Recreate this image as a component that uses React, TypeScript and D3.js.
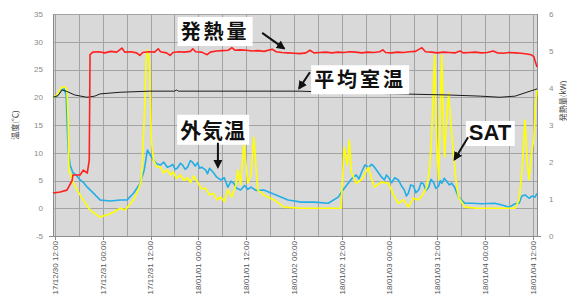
import { useEffect, useRef } from "react";
import * as d3 from "d3";

const W = 567;
const H = 307;

// x values are hours after 17/12/30 12:00
const TICK_LABELS = [
  "17/12/30 12:00",
  "17/12/31 00:00",
  "17/12/31 12:00",
  "18/01/01 00:00",
  "18/01/01 12:00",
  "18/01/02 00:00",
  "18/01/02 12:00",
  "18/01/03 00:00",
  "18/01/03 12:00",
  "18/01/04 00:00",
  "18/01/04 12:00",
];
const LEFT_TICKS = [-5, 0, 5, 10, 15, 20, 25, 30, 35];
const RIGHT_TICKS = [0, 1, 2, 3, 4, 5, 6];

// 発熱量 (kW, right axis)
const HEAT: [number, number][] = [
  [-0.5, 1.16], [1.3, 1.19], [3, 1.24], [4.3, 1.5], [4.5, 1.65], [6.3, 1.65], [7.1, 1.78],
  [8.1, 1.7], [8.6, 2.05], [8.8, 4.9], [9.5, 4.97], [11, 4.98], [12.5, 4.95], [14, 4.99],
  [15.5, 4.97], [16.8, 5.08], [17.5, 4.97], [19, 4.98], [20.5, 4.95], [21.3, 4.88], [22, 4.96],
  [23.5, 4.98], [25, 4.97], [25.9, 5.06], [26.5, 4.98], [28, 4.95], [28.9, 4.88], [29.6, 4.96],
  [31, 4.98], [32.5, 4.97], [34, 4.99], [34.6, 5.06], [35.3, 4.98], [36.8, 4.97], [38.2, 4.9],
  [39, 4.97], [40.5, 5.0], [42, 5.01], [43.5, 5.02], [44.4, 5.09], [45.2, 5.02], [46.5, 5.03],
  [48, 5.02], [49.5, 5.0], [51, 5.01], [52.5, 4.99], [54.5, 5.05], [55.5, 4.98], [57, 4.96],
  [58.5, 4.95], [60, 4.94], [61.5, 4.93], [63, 4.95], [64, 5.02], [65, 4.95], [66.5, 4.96],
  [68, 4.97], [69.5, 4.95], [71, 4.97], [72.5, 4.96], [74, 4.98], [75.5, 4.97], [77, 4.95],
  [78.5, 4.97], [80, 4.96], [81.5, 4.98], [82.3, 5.03], [83, 4.96], [84.5, 4.95], [86, 4.97],
  [87.5, 4.96], [89, 4.98], [90.5, 4.99], [92.1, 5.09], [93, 4.98], [94.5, 4.97], [96, 4.95],
  [97.5, 4.97], [99, 4.96], [100.5, 4.95], [101.7, 5.0], [102.5, 4.95], [104, 4.96],
  [105.5, 4.97], [107, 4.95], [108.5, 4.96], [110, 5.0], [111, 4.95], [112.5, 4.94],
  [114, 4.96], [115.5, 4.95], [117, 4.94], [118.5, 4.92], [119.5, 4.9], [120.2, 4.85],
  [120.6, 4.7], [121, 4.57],
];

// 平均室温 (°C)
const ROOM: [number, number][] = [
  [-0.5, 20.0], [0.75, 20.3], [1.8, 21.3], [2.8, 21.1], [5, 20.4], [8, 20.0], [10, 20.2],
  [11.3, 20.6], [16.3, 20.9], [23.8, 21.1], [30, 21.1], [30.5, 21.3], [31, 21.1], [49, 21.1],
  [61.5, 21.1], [69, 20.9], [74, 20.8], [86.6, 20.6], [99.1, 20.4], [106.7, 20.2],
  [111.7, 20.0], [115.5, 20.2], [118, 20.8], [121, 21.5],
];

// 外気温 (°C)
const OUTDOOR: [number, number][] = [
  [-0.5, 19.9], [0.5, 20.2], [1.5, 21.3], [2.3, 21.5], [2.8, 20.4], [3.3, 10.5], [3.8, 7.8],
  [4.5, 6.4], [5.3, 6.0], [6.3, 5.1], [7.2, 4.6], [8.1, 3.8], [10.1, 2.4], [11.3, 1.5],
  [13.9, 1.3], [16.4, 1.5], [18.1, 1.5], [19.7, 2.7], [21.4, 4.5], [22.4, 6.9], [23.2, 10.5],
  [23.9, 9.6], [24.7, 8.7], [25.5, 8.0], [26.5, 7.8], [27.3, 8.3], [28.2, 7.4], [29, 7.6],
  [29.5, 7.9], [30.2, 7.0], [30.8, 7.3], [31.5, 8.1], [32, 7.8], [32.7, 7.0], [33.3, 7.4],
  [34, 8.6], [34.5, 8.3], [35.2, 7.6], [35.8, 8.2], [36.3, 7.2], [36.8, 7.4], [37.8, 6.9],
  [38.3, 6.2], [38.8, 7.2], [39.8, 6.4], [40.6, 5.6], [41.6, 5.1], [42.5, 5.5], [43.4, 3.8],
  [44.2, 4.9], [44.9, 4.5], [45.6, 3.6], [46.6, 3.3], [47.6, 4.1], [48.4, 3.4], [49.2, 3.8],
  [50.5, 3.2], [52.4, 3.3], [55.5, 2.4], [58.5, 1.5], [61.8, 1.1], [65, 1.1], [68.6, 0.9],
  [71.1, 2.0], [72.3, 3.3], [73.6, 4.5], [74.6, 5.4], [75.6, 6.0], [76.3, 5.3], [76.9, 6.4],
  [77.8, 7.8], [78.7, 7.4], [79.5, 7.9], [80.2, 7.4], [81.2, 6.4], [82, 5.6], [82.7, 5.1],
  [83.2, 6.0], [83.7, 5.6], [84.5, 4.6], [85.3, 5.5], [86.2, 5.1], [87, 4.0], [87.7, 3.3],
  [88.2, 2.2], [88.7, 2.7], [89.3, 4.2], [90, 4.0], [90.6, 2.8], [91.3, 3.3], [91.9, 4.6],
  [92.5, 4.4], [93.1, 3.2], [93.8, 3.8], [94.4, 5.2], [95, 4.7], [95.6, 3.6], [96.3, 4.0],
  [96.7, 5.0], [97.1, 4.5], [97.7, 5.4], [98.3, 4.9], [99, 4.2], [99.6, 4.5], [100.3, 3.8],
  [101.3, 2.0], [102.9, 0.9], [104.6, 0.9], [107.1, 0.8], [110.4, 0.9], [112.2, 0.6],
  [114, 0.2], [115.5, 0.8], [116.5, 0.9], [117.2, 2.2], [118, 2.4], [119, 1.8], [119.7, 2.2],
  [120.5, 2.0], [121, 2.7],
];

// SAT (°C)
const SAT: [number, number][] = [
  [-0.5, 19.9], [0.5, 20.4], [1.5, 21.7], [2.5, 21.9], [3, 21.3], [3.3, 15.9], [3.5, 6.9],
  [4.3, 5.1], [5.5, 3.3], [7.1, 1.5], [8.8, -0.3], [11.3, -1.6], [13.9, -1.0], [16.4, 0.0],
  [17.6, -0.3], [19.7, 1.5], [20.9, 3.3], [21.7, 5.1], [22.4, 15.9], [22.9, 26.7], [23.2, 28.5],
  [23.7, 26.7], [24.2, 12.3], [24.7, 8.7], [25.5, 7.5], [26.5, 7.4], [27.3, 6.4], [28.2, 6.9],
  [29, 6.0], [29.7, 6.5], [30.5, 5.4], [31.5, 6.0], [32.4, 5.0], [33.3, 5.5], [34, 4.6],
  [34.8, 5.8], [35.8, 4.7], [36.8, 3.5], [37.8, 3.6], [38.8, 2.4], [39.8, 2.7], [40.7, 1.5],
  [41.6, 2.0], [42.5, 1.2], [43.4, 3.3], [44.4, 2.0], [45.4, 4.2], [45.9, 6.9], [46.6, 4.2],
  [47.4, 11.8], [48.4, 4.5], [49.2, 6.0], [49.9, 12.8], [50.9, 3.3], [52.4, 2.4], [55, 1.5],
  [57.5, 0.2], [61.8, 0.0], [66.8, 0.0], [71.8, 0.0], [72.6, 11.0], [73.4, 7.8], [73.9, 12.3],
  [74.4, 6.5], [75.6, 4.5], [76.9, 5.1], [78.7, 7.4], [79.4, 5.5], [80.2, 3.8], [81.9, 4.7],
  [83.7, 4.5], [85, 2.4], [86.2, 0.9], [87.5, 1.5], [88.7, 0.2], [90, 1.8], [91.3, 1.5],
  [92.5, 2.6], [93.3, 3.8], [94, 6.9], [94.5, 12.3], [95, 21.3], [95.3, 27.6], [95.8, 12.3],
  [96.3, 5.1], [96.8, 19.5], [97.1, 27.6], [97.5, 15.9], [97.8, 9.2], [98.3, 15.9],
  [98.8, 20.8], [99.3, 15.9], [100.1, 9.2], [100.8, 4.2], [101.3, 2.0], [102.9, 0.2],
  [105.9, 0.0], [110.4, 0.0], [115.5, 0.0], [116.5, 1.5], [117.2, 6.4], [118, 15.9],
  [118.5, 8.7], [119, 5.1], [119.7, 10.5], [120.2, 12.3], [120.6, 18.2], [121, 21.3],
];

// callouts, positioned in data units (hours, °C)
const NOTES = [
  { text: "発熱量", h: 40.2, t: 30.5, size: 20, ls: 3, from: [52, 31.6], to: [57.5, 28.8] },
  { text: "平均室温", h: 76.6, t: 21.8, size: 20, ls: 3, from: [64, 24.5], to: [61.3, 21.6] },
  { text: "外気温", h: 39.7, t: 12.7, size: 21, ls: 1, from: [40.9, 11.8], to: [40.9, 7.4] },
  { text: "SAT", h: 109.2, t: 12.3, size: 22, ls: 0, from: [103.7, 12.8], to: [100.3, 8.8] },
];

export default function App() {
  const ref = useRef<SVGSVGElement | null>(null);

  useEffect(() => {
    const left = 53, right = 537, top = 14, bottom = 236;
    const svg = d3.select(ref.current);
    svg.selectAll("*").remove();

    const x = d3.scaleLinear().domain([-0.5, 121]).range([left, right]);
    const yL = d3.scaleLinear().domain([-5, 35]).range([bottom, top]);
    const yR = d3.scaleLinear().domain([0, 6]).range([bottom, top]);

    svg.append("rect").attr("width", W).attr("height", H).attr("fill", "#fff");
    svg.append("rect")
      .attr("x", left).attr("y", top)
      .attr("width", right - left).attr("height", bottom - top)
      .attr("fill", "#d9d9d9");

    // grid
    const grid = svg.append("g").attr("stroke", "#a3a3a3").attr("stroke-width", 1);
    grid.selectAll("line.h")
      .data(LEFT_TICKS)
      .join("line")
      .attr("x1", left).attr("x2", right)
      .attr("y1", (d) => Math.round(yL(d)) + 0.5).attr("y2", (d) => Math.round(yL(d)) + 0.5);
    grid.selectAll("line.v")
      .data(d3.range(0, 121, 6))
      .join("line")
      .attr("x1", (d) => Math.round(x(d)) + 0.5).attr("x2", (d) => Math.round(x(d)) + 0.5)
      .attr("y1", top).attr("y2", bottom);
    svg.append("line")
      .attr("x1", left + 0.5).attr("x2", left + 0.5).attr("y1", top).attr("y2", bottom)
      .attr("stroke", "#8c8c8c");
    svg.append("line")
      .attr("x1", right + 0.5).attr("x2", right + 0.5).attr("y1", top).attr("y2", bottom)
      .attr("stroke", "#8c8c8c");
    svg.append("line")
      .attr("x1", left - 4).attr("x2", right + 4).attr("y1", bottom + 0.5).attr("y2", bottom + 0.5)
      .attr("stroke", "#8c8c8c");

    const tickFont = "'Liberation Sans', Arial, sans-serif";

    // left axis
    svg.append("g")
      .selectAll("text")
      .data(LEFT_TICKS)
      .join("text")
      .attr("x", 43).attr("y", (d) => yL(d)).attr("dy", "0.35em")
      .attr("text-anchor", "end")
      .attr("font-family", tickFont).attr("font-size", 8).attr("fill", "#8a8a8a")
      .text((d) => String(d));
    svg.append("text")
      .attr("transform", `translate(18,${(yL(13) + yL(17)) / 2}) rotate(-90)`)
      .attr("text-anchor", "middle")
      .attr("font-family", "'Noto Sans CJK JP', sans-serif").attr("font-size", 8).attr("fill", "#444")
      .text("温度(℃)");

    // right axis
    svg.append("g")
      .selectAll("text")
      .data(RIGHT_TICKS)
      .join("text")
      .attr("x", 549).attr("y", (d) => yR(d)).attr("dy", "0.35em")
      .attr("font-family", tickFont).attr("font-size", 8).attr("fill", "#8a8a8a")
      .text((d) => String(d));
    svg.append("text")
      .attr("transform", `translate(563,${yR(3.65)}) rotate(-90)`)
      .attr("text-anchor", "middle").attr("dy", "0.35em")
      .attr("font-family", "'Noto Sans CJK JP', sans-serif").attr("font-size", 8).attr("fill", "#444")
      .text("発熱量(kW)");

    // bottom axis
    const ticks = TICK_LABELS.map((label, i) => ({ label, h: i * 12 }));
    svg.append("g")
      .selectAll("line")
      .data(ticks)
      .join("line")
      .attr("x1", (d) => Math.round(x(d.h)) + 0.5).attr("x2", (d) => Math.round(x(d.h)) + 0.5)
      .attr("y1", bottom).attr("y2", bottom + 4)
      .attr("stroke", "#8c8c8c");
    svg.append("g")
      .selectAll("text")
      .data(ticks)
      .join("text")
      .attr("transform", (d) => `translate(${x(d.h)},${bottom + 5}) rotate(-90)`)
      .attr("text-anchor", "end").attr("dy", "0.35em")
      .attr("font-family", tickFont).attr("font-size", 8).attr("fill", "#555")
      .text((d) => d.label);

    // series
    const lineL = d3.line<[number, number]>().x((d) => x(d[0])).y((d) => yL(d[1]));
    const lineR = d3.line<[number, number]>().x((d) => x(d[0])).y((d) => yR(d[1]));
    const series: { data: [number, number][]; gen: typeof lineL; color: string; w: number }[] = [
      { data: OUTDOOR, gen: lineL, color: "#23aee6", w: 1.6 },
      { data: SAT, gen: lineL, color: "#ffff00", w: 1.6 },
      { data: ROOM, gen: lineL, color: "#1a1a1a", w: 1 },
      { data: HEAT, gen: lineR, color: "#ff2020", w: 1.6 },
    ];
    series.forEach((s) =>
      svg.append("path")
        .attr("d", s.gen(s.data))
        .attr("fill", "none")
        .attr("stroke", s.color)
        .attr("stroke-width", s.w)
        .attr("stroke-linejoin", "round"),
    );

    // callouts
    const defs = svg.append("defs");
    defs.append("marker")
      .attr("id", "head")
      .attr("viewBox", "0 0 10 10")
      .attr("refX", 8).attr("refY", 5)
      .attr("markerWidth", 4.5).attr("markerHeight", 4.5)
      .attr("orient", "auto")
      .append("path").attr("d", "M0,0L10,5L0,10z").attr("fill", "#111");

    NOTES.forEach((n) => {
      const g = svg.append("g");
      const txt = g.append("text")
        .attr("x", x(n.h)).attr("y", yL(n.t))
        .attr("text-anchor", "middle")
        .attr("font-family", n.text === "SAT" ? "'Liberation Sans', Arial, sans-serif" : "'Noto Sans CJK JP', sans-serif")
        .attr("font-weight", "bold")
        .attr("font-size", n.size)
        .attr("letter-spacing", n.ls)
        .attr("fill", "#111")
        .text(n.text);
      const bb = (txt.node() as SVGTextElement).getBBox();
      g.insert("rect", "text")
        .attr("x", bb.x - 3).attr("y", bb.y + 1)
        .attr("width", bb.width + 6).attr("height", bb.height)
        .attr("fill", "#fff");
      svg.append("line")
        .attr("x1", x(n.from[0])).attr("y1", yL(n.from[1]))
        .attr("x2", x(n.to[0])).attr("y2", yL(n.to[1]))
        .attr("stroke", "#111").attr("stroke-width", 2)
        .attr("marker-end", "url(#head)");
    });
  }, []);

  return (
    <svg
      ref={ref}
      width={W}
      height={H}
      style={{ position: "absolute", left: 0, top: 0 }}
    />
  );
}
